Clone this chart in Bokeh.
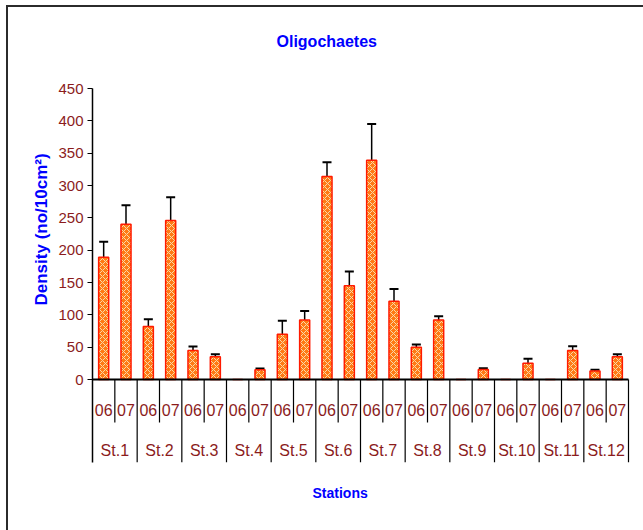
from bokeh.plotting import figure
from bokeh.models import Range1d, FixedTicker, ColumnDataSource, Whisker, TeeHead, Title
from bokeh.core.properties import value
from bokeh.embed import file_html
from bokeh.resources import INLINE

# ---------------- data ----------------
stations = ["St.1", "St.2", "St.3", "St.4", "St.5", "St.6",
            "St.7", "St.8", "St.9", "St.10", "St.11", "St.12"]
years = ["06", "07"]
density_06 = [189, 82, 45, 0, 70, 314, 339, 50, 0, 0, 0, 13]
density_07 = [240, 246, 35, 15, 92, 145, 121, 92, 15.5, 25, 45, 35]
error_06 = [24, 11, 6, 0, 21, 22, 56, 4, 0, 0, 0, 2]
error_07 = [29.5, 36, 4, 2, 14, 22, 19, 6, 2, 7, 6.5, 4]
y_ticks = [0, 50, 100, 150, 200, 250, 300, 350, 400, 450]

# ---------------- build table ----------------
n_years = len(years)
n_slots = len(stations) * n_years
xs, tops, errs, labels = [], [], [], []
for s in range(len(stations)):
    for k, (d, e) in enumerate([(density_06[s], error_06[s]), (density_07[s], error_07[s])]):
        xs.append(s * n_years + k + 0.5)
        tops.append(d)
        errs.append(e)
        labels.append(years[k])
bars = ColumnDataSource(dict(x=xs, top=tops, label=labels))
wx = [x for x, e in zip(xs, errs) if e > 0]
wl = [t for t, e in zip(tops, errs) if e > 0]
wu = [t + e for t, e in zip(tops, errs) if e > 0]
whisk = ColumnDataSource(dict(x=wx, lower=wl, upper=wu))

FONT = "Liberation Sans"
RED_TXT = "#8B1C1C"

# page layout (pixels)
W, H = 643, 530
FL, FR, FT, FB = 92, 635, 80, 462       # frame edges
PX_0, PX_MAX = 379, 88                  # pixel rows of y=0 and y=y_ticks[-1]
PX_XEND = 628                           # pixel column of the last category boundary
UNIT = (PX_0 - PX_MAX) / y_ticks[-1]    # pixels per density unit
Y_TOP = y_ticks[-1] + (PX_MAX - FT) / UNIT
Y_BOTTOM = -(FB - PX_0) / UNIT
SUB_SEP_END = -(422 - PX_0) / UNIT
YEAR_Y = -(409 - PX_0) / UNIT
STATION_Y = -(450 - PX_0) / UNIT
X_END = n_slots * (FR - FL) / (PX_XEND - FL)

p = figure(width=W, height=H, output_backend="svg", toolbar_location=None,
           x_range=Range1d(0, X_END), y_range=Range1d(Y_BOTTOM, Y_TOP),
           x_axis_location=None, min_border_left=FL, min_border_top=FT,
           min_border_right=W - FR, min_border_bottom=H - FB,
           background_fill_color="white", border_fill_color=None)
p.outline_line_color = None
p.grid.visible = False
# outer page frame (left and top edges) painted behind the transparent canvas border
p.styles = {
    "overflow": "hidden",
    "background-color": "white",
    "background-image": "linear-gradient(#2b2b2b, #2b2b2b), linear-gradient(#2b2b2b, #2b2b2b)",
    "background-size": "2px 100%, 100% 2px",
    "background-position": "6px 5px, 6px 5px",
    "background-repeat": "no-repeat",
}

# title
p.title.text = "Oligochaetes"
p.title.align = "left"
p.title.offset = 184
p.title.standoff = 61
p.title.text_color = "#0000FF"
p.title.text_font = "Liberation Sans"
p.title.text_font_size = "16px"
p.title.text_font_style = "bold"

# y axis
ya = p.yaxis[0]
ya.ticker = FixedTicker(ticks=y_ticks)
ya.bounds = (Y_BOTTOM, y_ticks[-1])
ya.major_label_text_color = RED_TXT
ya.major_label_text_font = FONT
ya.major_label_text_font_size = "15px"
ya.major_tick_in = 0
ya.major_tick_out = 5
ya.minor_tick_line_color = None
ya.axis_line_color = "black"
ya.axis_line_width = 1.5
ya.major_tick_line_color = "black"
ya.major_label_standoff = 4

p.add_layout(Title(text="Density (no/10cm\u00b2)", align="left", offset=157,
                   text_color="#0000FF", text_font="Liberation Sans",
                   text_font_size="17px", text_font_style="bold"), "left")
p.add_layout(Title(text="Stations", align="left", offset=220, standoff=40,
                   text_color="#0000FF", text_font="Liberation Sans",
                   text_font_size="14px", text_font_style="bold"), "below")

# bars
p.vbar(x="x", top="top", bottom=0, width=0.45, source=bars,
       fill_color="#FF7A14", line_color="#FF1A00", line_width=1.5,
       hatch_pattern="diagonal_cross", hatch_color="#FAD8A8",
       hatch_scale=6, hatch_weight=1.0)

# error bars
p.add_layout(Whisker(base="x", lower="lower", upper="upper", source=whisk,
                     line_color="black", line_width=1.5, lower_head=None,
                     upper_head=TeeHead(size=9, line_color="black", line_width=2)))

# category separators
bx = list(range(1, n_slots + 1))
by1 = [Y_BOTTOM if b % n_years == 0 else SUB_SEP_END for b in bx]
p.segment(x0=bx, y0=[0] * len(bx), x1=bx, y1=by1, line_color="black", line_width=1.2)
# x axis line
p.segment(x0=[0], y0=[0], x1=[n_slots], y1=[0], line_color="black", line_width=1.8)

# category labels
p.text(x="x", y=YEAR_Y, text="label", source=bars, text_align="center",
       text_baseline="middle", text_color=RED_TXT, text_font=value(FONT),
       text_font_size="16px")
st_x = [s * n_years + n_years / 2 for s in range(len(stations))]
p.text(x=st_x, y=[STATION_Y] * len(stations), text=stations, text_align="center",
       text_baseline="middle", text_color=RED_TXT, text_font=value(FONT),
       text_font_size="16px")

open("out.html", "w").write(file_html(p, INLINE))
